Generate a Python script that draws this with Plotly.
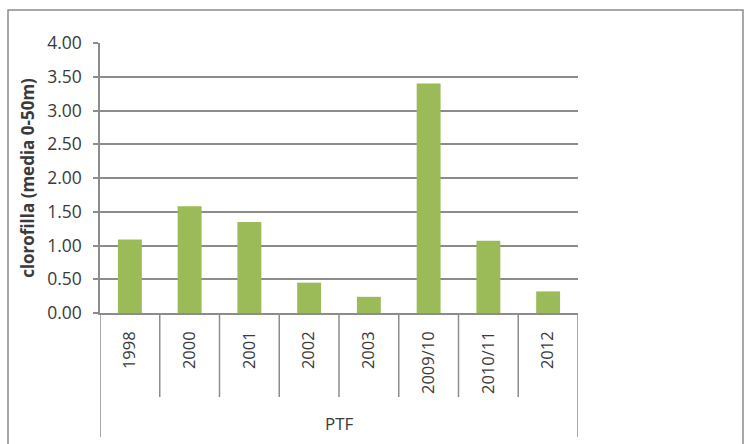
import plotly.graph_objects as go

# Chlorophyll (mean 0-50 m) by sampling campaign
campaigns = ["1998", "2000", "2001", "2002", "2003", "2009/10", "2010/11", "2012"]
chlorophyll = [1.09, 1.58, 1.35, 0.45, 0.24, 3.40, 1.07, 0.32]
group_label = "PTF"
y_ticks = [0.0, 0.5, 1.0, 1.5, 2.0, 2.5, 3.0, 3.5, 4.0]

W, H = 744, 444
BAR_COLOR = "#9bbb59"
LINE_COLOR = "#8c8c8c"
TEXT_COLOR = "#3a3a3a"
FONT = "Open Sans"

# plot area in pixels
px_left, px_right = 100, 578
px_top, px_bottom = 43, 313


def py(pix):
    return (H - pix) / H


fig = go.Figure(
    go.Bar(
        x=campaigns,
        y=chlorophyll,
        marker=dict(color=BAR_COLOR, line=dict(width=0)),
    )
)

shapes = []
n = len(campaigns)
# category table separators below the axis
for i in range(n + 1):
    outer = i == 0 or i == n
    shapes.append(
        dict(
            type="line", xref="x", yref="paper",
            x0=i - 0.5, x1=i - 0.5,
            y0=py(437 if outer else 397), y1=py(px_bottom),
            line=dict(color=LINE_COLOR, width=1.5),
        )
    )
# chart frame
shapes.append(
    dict(
        type="rect", xref="paper", yref="paper",
        x0=8 / W, x1=743 / W, y0=-0.02, y1=py(10),
        line=dict(color=LINE_COLOR, width=1.5),
        fillcolor="rgba(0,0,0,0)", layer="below",
    )
)

fig.update_layout(
    width=W, height=H,
    margin=dict(l=0, r=0, t=0, b=0),
    paper_bgcolor="white", plot_bgcolor="white",
    showlegend=False,
    bargap=0.6,
    font=dict(family=FONT, color=TEXT_COLOR, size=16),
    shapes=shapes,
    xaxis=dict(
        domain=[px_left / W, px_right / W],
        automargin=False,
        type="category",
        range=[-0.5, n - 0.5],
        showline=True, linecolor=LINE_COLOR, linewidth=1.5,
        showgrid=False, zeroline=False,
        ticks="outside", ticklen=10, tickcolor="rgba(0,0,0,0)",
        tickangle=-90,
        tickfont=dict(family=FONT, size=16.5, color=TEXT_COLOR),
    ),
    yaxis=dict(
        domain=[py(px_bottom), py(px_top)],
        automargin=False,
        range=[0, 4],
        tickvals=y_ticks,
        ticktext=[f"{v:.2f}" for v in y_ticks],
        showline=True, linecolor=LINE_COLOR, linewidth=1.5,
        showgrid=True, gridcolor=LINE_COLOR, gridwidth=1.5,
        zeroline=False,
        ticks="outside", ticklen=5, tickcolor=LINE_COLOR, tickwidth=1.5,
        ticklabelstandoff=8,
        tickfont=dict(family=FONT, size=17.5, color=TEXT_COLOR),
        title=dict(
            text="<b>clorofilla (media 0-50m)</b>",
            font=dict(family=FONT, size=17, color=TEXT_COLOR),
            standoff=8,
        ),
    ),
    annotations=[
        dict(
            text=group_label, xref="x", yref="paper",
            x=(n - 1) / 2, y=py(423),
            xanchor="center", yanchor="middle",
            showarrow=False,
            font=dict(family=FONT, size=17, color=TEXT_COLOR),
        )
    ],
)

fig.write_html("out.html")
